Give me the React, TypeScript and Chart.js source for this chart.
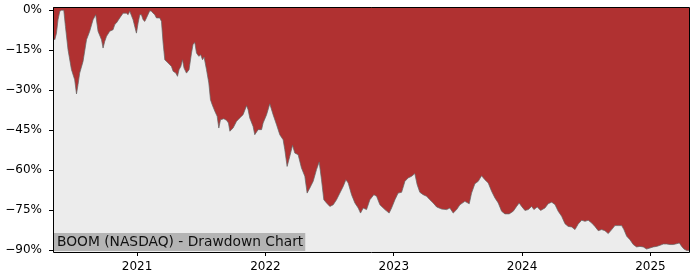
import React, { useEffect, useRef } from 'react';
import { Chart, registerables } from 'chart.js';

Chart.register(...registerables);

// Decimal-year dates of sampled points
const dates: number[] = [
  2020.345, 2020.359, 2020.372, 2020.384, 2020.398, 2020.411, 2020.429, 2020.442, 2020.462, 2020.489,
  2020.514, 2020.528, 2020.540, 2020.553, 2020.579, 2020.606, 2020.631, 2020.657, 2020.678, 2020.696,
  2020.723, 2020.735, 2020.748, 2020.762, 2020.787, 2020.813, 2020.826, 2020.839, 2020.865, 2020.891,
  2020.917, 2020.930, 2020.943, 2020.969, 2020.995, 2021.008, 2021.021, 2021.034, 2021.047, 2021.060,
  2021.073, 2021.099, 2021.112, 2021.125, 2021.138, 2021.151, 2021.177, 2021.190, 2021.203, 2021.216,
  2021.242, 2021.268, 2021.281, 2021.302, 2021.315, 2021.327, 2021.341, 2021.354, 2021.366, 2021.385,
  2021.405, 2021.424, 2021.436, 2021.450, 2021.463, 2021.481, 2021.496, 2021.510, 2021.522, 2021.541,
  2021.559, 2021.572, 2021.585, 2021.606, 2021.624, 2021.637, 2021.650, 2021.676, 2021.697, 2021.712,
  2021.723, 2021.748, 2021.775, 2021.800, 2021.826, 2021.853, 2021.865, 2021.878, 2021.904, 2021.917,
  2021.943, 2021.970, 2021.982, 2022.009, 2022.034, 2022.060, 2022.087, 2022.112, 2022.138, 2022.151,
  2022.169, 2022.190, 2022.211, 2022.229, 2022.255, 2022.281, 2022.307, 2022.325, 2022.346, 2022.372,
  2022.398, 2022.419, 2022.437, 2022.455, 2022.476, 2022.502, 2022.528, 2022.554, 2022.580, 2022.606,
  2022.627, 2022.645, 2022.671, 2022.697, 2022.723, 2022.741, 2022.762, 2022.788, 2022.814, 2022.845,
  2022.866, 2022.892, 2022.931, 2022.964, 2022.983, 2023.009, 2023.034, 2023.061, 2023.087, 2023.112,
  2023.139, 2023.164, 2023.182, 2023.203, 2023.229, 2023.256, 2023.281, 2023.307, 2023.334, 2023.373,
  2023.412, 2023.437, 2023.463, 2023.490, 2023.515, 2023.554, 2023.588, 2023.606, 2023.632, 2023.658,
  2023.684, 2023.710, 2023.736, 2023.762, 2023.788, 2023.814, 2023.840, 2023.866, 2023.899, 2023.931,
  2023.957, 2023.977, 2023.996, 2024.022, 2024.048, 2024.074, 2024.092, 2024.118, 2024.144, 2024.178,
  2024.203, 2024.230, 2024.256, 2024.281, 2024.308, 2024.334, 2024.359, 2024.386, 2024.412, 2024.437,
  2024.464, 2024.490, 2024.515, 2024.542, 2024.567, 2024.593, 2024.620, 2024.645, 2024.671, 2024.698,
  2024.723, 2024.749, 2024.776, 2024.793, 2024.815, 2024.840, 2024.866, 2024.892, 2024.918, 2024.944,
  2024.970, 2024.996, 2025.022, 2025.048, 2025.074, 2025.100, 2025.126, 2025.152, 2025.178, 2025.204,
  2025.225, 2025.243, 2025.261, 2025.282, 2025.302,
];

// Drawdown in percent
const drawdownPct: number[] = [
  -10.4, -11.1, -8.6, -3.6, -0.4, 0, 0, -6.1, -14.8, -22.3,
  -26.1, -31.4, -27.9, -23.6, -19.2, -11.1, -7.9, -3.6, -1.7, -7.9,
  -11.1, -14.2, -11.7, -9.8, -7.9, -7.3, -5.4, -4.8, -2.9, -1.1,
  -1.1, -1.7, -0.4, -3.6, -8.6, -4.8, -1.7, -1.7, -3.6, -4.2,
  -2.9, -0.2, -0.4, -1.1, -1.7, -2.9, -2.9, -4.2, -12.3, -18.6,
  -19.8, -21.1, -22.9, -23.6, -24.8, -22.3, -21.1, -18.6, -21.7, -23.6,
  -22.3, -16.1, -12.9, -12.1, -16.1, -17.3, -16.7, -18.6, -17.6, -22.3,
  -27.3, -33.6, -35.4, -37.9, -39.8, -44.2, -41.1, -40.7, -41.3, -42.3,
  -45.4, -44.2, -41.7, -40.4, -39.2, -35.8, -37.3, -40.4, -43.6, -46.7,
  -44.8, -44.8, -42.3, -39.2, -35.1, -39.2, -43.0, -46.7, -48.6, -52.3,
  -58.6, -54.8, -50.7, -53.6, -54.2, -59.2, -62.3, -68.6, -66.7, -64.2,
  -59.8, -56.9, -63.6, -71.1, -72.3, -73.6, -73.0, -71.1, -68.6, -66.1,
  -63.6, -64.8, -69.2, -72.3, -74.2, -76.1, -74.2, -74.8, -71.1, -69.2,
  -69.8, -73.0, -74.8, -76.1, -74.2, -71.1, -68.6, -68.3, -64.2, -62.9,
  -62.3, -61.3, -65.4, -68.3, -69.2, -69.8, -71.1, -72.3, -73.8, -74.6,
  -74.8, -74.2, -76.1, -74.8, -73.0, -71.7, -72.6, -68.6, -65.1, -64.2,
  -62.1, -63.6, -64.8, -67.9, -70.4, -72.3, -75.4, -76.4, -76.4, -75.4,
  -73.6, -72.3, -73.6, -75.1, -74.8, -73.6, -74.8, -73.8, -75.1, -74.2,
  -72.6, -72.0, -72.9, -75.4, -77.3, -80.1, -81.1, -81.3, -82.3, -80.2,
  -78.8, -79.2, -78.8, -79.8, -81.1, -82.7, -82.3, -82.7, -83.8, -82.3,
  -80.8, -80.8, -80.8, -82.3, -84.8, -86.1, -87.9, -88.8, -88.6, -88.8,
  -89.6, -89.2, -88.8, -88.6, -88.2, -87.7, -87.7, -87.9, -87.9, -87.6,
  -87.3, -88.6, -89.6, -90.1, -90.1,
];

const yTickValues: number[] = [0, -15, -30, -45, -60, -75, -90];
const xTickYears: number[] = [2021, 2022, 2023, 2024, 2025];
const chartLabel = 'BOOM (NASDAQ) - Drawdown Chart';

const FONT_FAMILY = '"DejaVu Sans", sans-serif';

export default function App() {
  const ref = useRef<HTMLCanvasElement>(null);

  useEffect(() => {
    const canvas = ref.current;
    if (!canvas) return;

    const framePlugin = {
      id: 'frame',
      beforeDraw(chart: any) {
        const { ctx, chartArea: a } = chart;
        ctx.save();
        ctx.fillStyle = '#ffffff';
        ctx.fillRect(0, 0, chart.width, chart.height);
        ctx.fillStyle = '#ececec';
        ctx.fillRect(a.left, a.top, a.right - a.left, a.bottom - a.top);
        ctx.restore();
      },
      afterDatasetsDraw(chart: any) {
        const { ctx, chartArea: a } = chart;
        ctx.save();
        ctx.font = `13.8px ${FONT_FAMILY}`;
        const w = ctx.measureText(chartLabel).width;
        const x0 = a.left + 1;
        const yBottom = a.bottom - 1;
        const h = 18;
        ctx.fillStyle = '#b4b4b4';
        ctx.fillRect(x0, yBottom - h, w + 5, h);
        ctx.fillStyle = '#111111';
        ctx.textBaseline = 'alphabetic';
        ctx.textAlign = 'left';
        ctx.fillText(chartLabel, x0 + 3, yBottom - 5);
        ctx.restore();
      },
      afterDraw(chart: any) {
        const { ctx, chartArea: a } = chart;
        ctx.save();
        ctx.strokeStyle = '#000000';
        ctx.lineWidth = 1;
        ctx.beginPath();
        ctx.moveTo(a.left + 0.5, a.top + 0.5);
        ctx.lineTo(a.right - 0.5, a.top + 0.5);
        ctx.lineTo(a.right - 0.5, a.bottom + 0.5);
        ctx.lineTo(a.left + 0.5, a.bottom + 0.5);
        ctx.closePath();
        ctx.stroke();
        ctx.restore();
      },
    };

    const chart = new Chart(canvas, {
      type: 'line',
      data: {
        datasets: [
          {
            data: dates.map((d, i) => ({ x: d, y: drawdownPct[i] })),
            borderColor: 'rgba(100,100,100,0.9)',
            borderWidth: 0.8,
            backgroundColor: '#b03131',
            fill: 'end',
            pointRadius: 0,
            tension: 0,
          },
        ],
      },
      options: {
        responsive: false,
        animation: false,
        events: [],
        layout: { padding: { top: 7, right: 10, left: 0, bottom: 0 } },
        plugins: {
          legend: { display: false },
          tooltip: { enabled: false },
        },
        scales: {
          x: {
            type: 'linear',
            min: 2020.345,
            max: 2025.308,
            afterFit: (s: any) => {
              s.height = 28;
              s.paddingLeft = 0;
              s.paddingRight = 0;
            },
            afterBuildTicks: (s: any) => {
              s.ticks = xTickYears.map((v) => ({ value: v }));
            },
            border: { display: false },
            grid: {
              drawOnChartArea: false,
              drawTicks: true,
              tickLength: 4,
              color: '#000000',
              lineWidth: 1,
            },
            ticks: {
              autoSkip: false,
              maxRotation: 0,
              padding: 4,
              color: '#000000',
              font: { family: FONT_FAMILY, size: 12 },
              callback: (v: any) => String(v),
            },
          },
          y: {
            type: 'linear',
            min: -90.7,
            max: 1.2,
            afterFit: (s: any) => {
              s.width = 53;
              s.paddingTop = 0;
              s.paddingBottom = 0;
            },
            afterBuildTicks: (s: any) => {
              s.ticks = yTickValues.map((v) => ({ value: v }));
            },
            border: { display: false },
            grid: {
              drawOnChartArea: false,
              drawTicks: true,
              tickLength: 4,
              color: '#000000',
              lineWidth: 1,
            },
            ticks: {
              autoSkip: false,
              padding: 7,
              color: '#000000',
              font: { family: FONT_FAMILY, size: 12 },
              callback: (v: any) => (v < 0 ? '\u2212' + Math.abs(v) : String(v)) + '%',
            },
          },
        },
      },
      plugins: [framePlugin],
    });

    return () => chart.destroy();
  }, []);

  return (
    <div style={{ position: 'absolute', left: 0, top: 0, width: 700, height: 280, background: '#ffffff' }}>
      <canvas ref={ref} width={700} height={280} />
    </div>
  );
}
